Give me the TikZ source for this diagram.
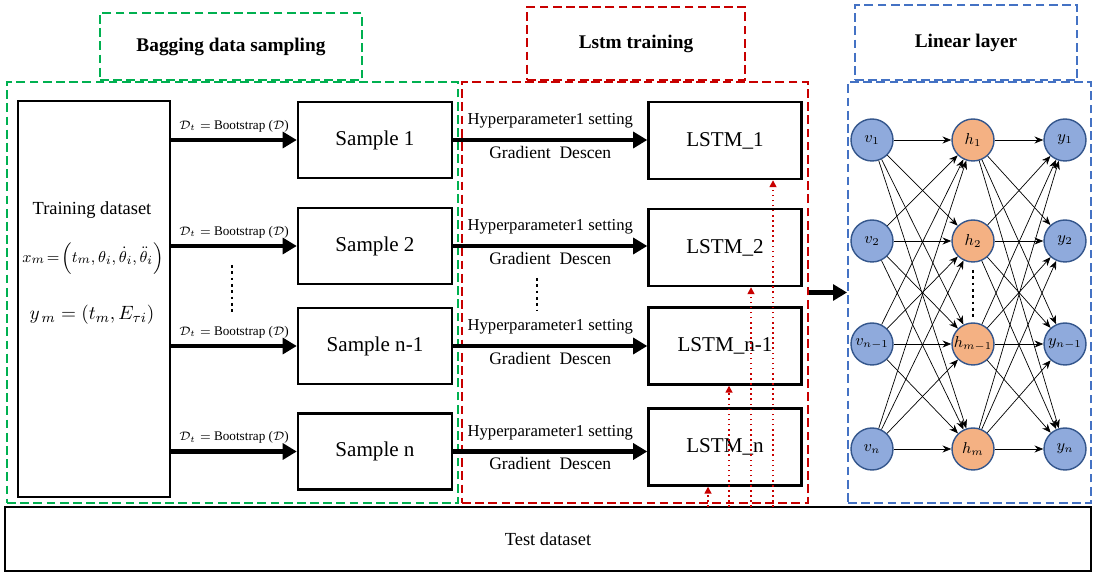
\documentclass[tikz,border=0pt]{standalone}
\usepackage{fontspec}
\setmainfont{Liberation Serif}
\usetikzlibrary{arrows.meta}
\definecolor{frgreen}{RGB}{0,176,80}
\definecolor{frred}{RGB}{200,0,0}
\definecolor{frblue}{RGB}{68,114,196}
\definecolor{nodeblue}{RGB}{143,170,220}
\definecolor{nodeorange}{RGB}{244,177,131}
\definecolor{nodeedge}{RGB}{52,86,140}
\begin{document}
\begin{tikzpicture}[x=0.02cm, y=-0.02cm,
  frame/.style={draw, line width=1.1pt, dash pattern=on 5pt off 2.5pt, inner sep=0pt},
  titlebox/.style={frame, font=\fontsize{11}{13}\selectfont\bfseries},
  box/.style={draw, line width=1.4pt, inner sep=0pt, font=\fontsize{12}{14}\selectfont},
  big/.style={line width=2.5pt, -{Triangle[length=8pt,width=9pt]}},
  boot/.style={font=\fontsize{7.5}{9}\selectfont},
  hyper/.style={font=\fontsize{9.5}{11}\selectfont},
  vnode/.style={circle, draw=nodeedge, fill=nodeblue, line width=0.8pt, minimum size=0.84cm, inner sep=0pt, font=\small},
  hnode/.style={vnode, fill=nodeorange},
  nnarrow/.style={line width=0.4pt, -{Stealth[length=5pt,width=4pt]}},
  testarrow/.style={frred, line width=0.9pt, dotted, -{Triangle[length=4pt,width=4pt]}},
  dots/.style={line width=1.6pt, dotted}
]
\useasboundingbox (0,0) rectangle (1093,574);

\node[titlebox, draw=frgreen, minimum width=5.24cm, minimum height=1.34cm] (gtitle) at (231,46.5) {Bagging data sampling};
\node[titlebox, draw=frred, minimum width=4.36cm, minimum height=1.46cm] (rtitle) at (636,43.5) {Lstm training};
\node[titlebox, draw=frblue, minimum width=4.44cm, minimum height=1.5cm] (btitle) at (966,42.5) {Linear layer};

\node[frame, draw=frgreen, minimum width=9.02cm, minimum height=8.42cm] (gframe) at (232.5,292.5) {};
\node[frame, draw=frred, minimum width=6.92cm, minimum height=8.42cm] (rframe) at (635,292.5) {};
\node[frame, draw=frblue, minimum width=4.86cm, minimum height=8.42cm] (bframe) at (969.5,292.5) {};

\node[box, minimum width=21.72cm, minimum height=1.28cm, font=\fontsize{10.5}{12}\selectfont] (test) at (548,539) {Test dataset};

\node[box, minimum width=3.04cm, minimum height=7.92cm] (train) at (94,299) {};
\node[font=\fontsize{10.5}{12}\selectfont] (tx1) at (92,210) {Training dataset};
\node[font=\fontsize{9.5}{11}\selectfont] (tx2) at (93,258) {$x_m\!=\!\Big(t_m,\theta_i,\dot\theta_i,\ddot\theta_i\Big)$};
\node[font=\fontsize{11}{13}\selectfont] (tx3) at (92,315) {$y_{\,m}=(t_m,E_{\tau i})$};

\foreach \lab/\ys/\yl [count=\i] in {1/140/140.5, 2/246/247.5, n-1/346/346, n/451.5/447} {
  \node[box, minimum width=3.08cm, minimum height=1.52cm] (s\i) at (375,\ys) {Sample \lab};
  \node[box, minimum width=3.06cm, minimum height=1.54cm] (l\i) at (725,\yl) {LSTM\_\lab};
  \draw[big] (train.east |- s\i.west) -- (s\i.west)
    node[boot, midway, above=0pt] {$\mathcal{D}_t=$ Bootstrap ($\mathcal{D}$)};
  \draw[big] (s\i.east) -- (s\i.east -| l\i.west)
    node[hyper, midway, above=2pt] {Hyperparameter1 setting}
    node[hyper, midway, below=-1pt, font=\fontsize{10}{12}\selectfont] {Gradient\enspace Descen};
}

\draw[dots] (232,265) -- (232,315);
\draw[dots] (537,278) -- (537,310);

\foreach \xx/\j in {708/4, 729/3, 751/2, 773/1} {
  \coordinate (r\j) at (\xx,507);
  \draw[testarrow] (r\j) -- (r\j |- l\j.south);
}

\draw[big] (rframe.east) -- (bframe.west);

\foreach \yy/\vl/\hl [count=\i] in {140/1/1, 241/2/2, 344/n-1/m-1, 449/n/m} {
  \node[vnode] (v\i) at (872,\yy) {$v_{\vl}$};
  \node[hnode] (h\i) at (973,\yy) {$h_{\hl}$};
  \node[vnode] (y\i) at (1065,\yy) {$y_{\vl}$};
}
\foreach \i in {1,...,4} {
  \foreach \j in {1,...,4} {
    \draw[nnarrow] (v\i) -- (h\j);
    \draw[nnarrow] (h\i) -- (y\j);
  }
}
\draw[dots] (973,270) -- (973,318);
\end{tikzpicture}
\end{document}
